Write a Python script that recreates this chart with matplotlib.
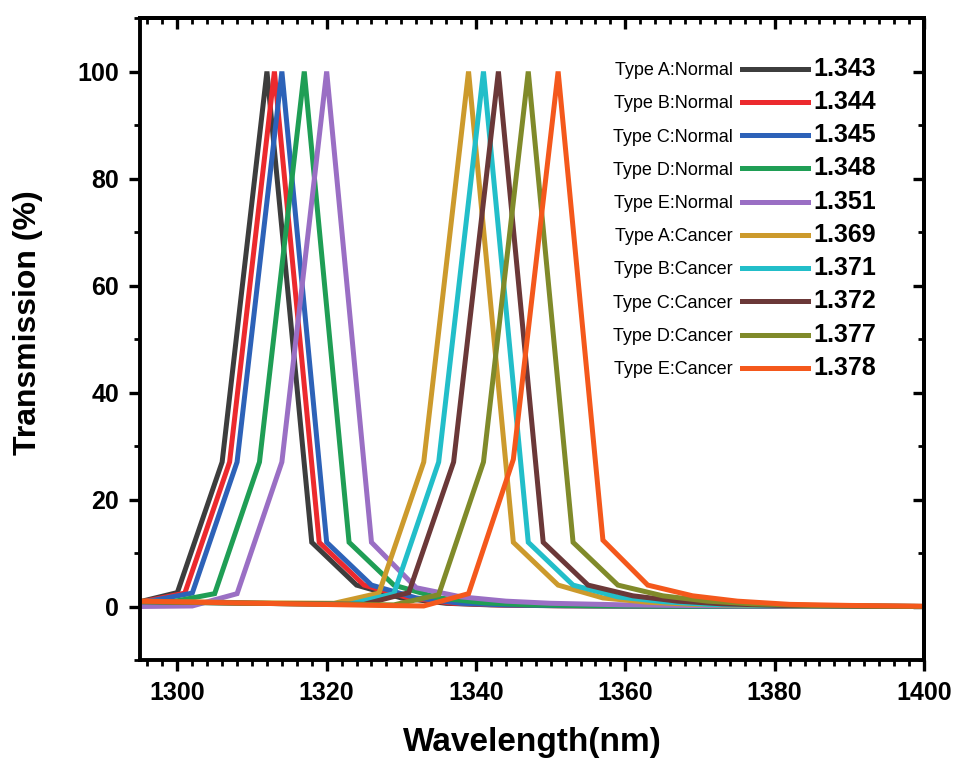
import matplotlib
matplotlib.use("Agg")
import matplotlib.pyplot as plt
from matplotlib.ticker import MultipleLocator

plt.rcParams['font.family'] = ['Liberation Sans', 'DejaVu Sans']

# ---------------- data ----------------
labels = ["Type A:Normal", "Type B:Normal", "Type C:Normal", "Type D:Normal", "Type E:Normal",
          "Type A:Cancer", "Type B:Cancer", "Type C:Cancer", "Type D:Cancer", "Type E:Cancer"]
ri_values = ["1.343", "1.344", "1.345", "1.348", "1.351",
             "1.369", "1.371", "1.372", "1.377", "1.378"]
colors = ["#3d3d3d", "#ec2a2e", "#2d62b8", "#1f9e55", "#9a6fc4",
          "#cc9a2c", "#22bec9", "#6b3838", "#808a2a", "#f4581c"]

x_a_normal = [1295, 1300, 1306, 1312, 1318, 1324, 1330, 1336, 1342, 1350, 1370, 1400]
y_a_normal = [0.9, 2.6, 27.0, 100, 12.0, 4.0, 1.6, 0.6, 0.3, 0.15, 0.05, 0.0]

x_b_normal = [1295, 1301, 1307, 1313, 1319, 1325, 1331, 1337, 1343, 1351, 1370, 1400]
y_b_normal = [0.8, 2.5, 27.0, 100, 12.0, 4.0, 1.6, 0.6, 0.3, 0.15, 0.05, 0.0]

x_c_normal = [1295, 1302, 1308, 1314, 1320, 1326, 1332, 1338, 1344, 1352, 1370, 1400]
y_c_normal = [0.7, 2.5, 27.0, 100, 12.0, 4.0, 1.6, 0.6, 0.3, 0.15, 0.05, 0.0]

x_d_normal = [1295, 1299, 1305, 1311, 1317, 1323, 1329, 1335, 1341, 1347, 1355, 1370, 1400]
y_d_normal = [0.6, 0.8, 2.4, 27.0, 100, 12.0, 4.0, 1.6, 0.7, 0.3, 0.15, 0.05, 0.0]

x_e_normal = [1295, 1302, 1308, 1314, 1320, 1326, 1332, 1338, 1344, 1350, 1360, 1375, 1400]
y_e_normal = [0.0, 0.1, 2.4, 27.0, 100, 12.0, 3.5, 1.8, 1.0, 0.6, 0.3, 0.1, 0.0]

x_a_cancer = [1295, 1310, 1321, 1327, 1333, 1339, 1345, 1351, 1357, 1363, 1369, 1377, 1390, 1400]
y_a_cancer = [1.0, 0.7, 0.6, 2.5, 27.0, 100, 12.0, 4.0, 1.6, 0.8, 0.4, 0.2, 0.05, 0.0]

x_b_cancer = [1295, 1310, 1323, 1329, 1335, 1341, 1347, 1353, 1359, 1365, 1371, 1379, 1390, 1400]
y_b_cancer = [0.9, 0.6, 0.4, 2.4, 27.0, 100, 12.0, 4.0, 1.8, 0.9, 0.4, 0.2, 0.05, 0.0]

x_c_cancer = [1295, 1310, 1325, 1331, 1337, 1343, 1349, 1355, 1361, 1367, 1373, 1381, 1392, 1400]
y_c_cancer = [0.9, 0.6, 0.4, 2.6, 27.0, 100, 12.0, 4.0, 2.0, 1.0, 0.5, 0.2, 0.05, 0.0]

x_d_cancer = [1295, 1310, 1329, 1335, 1341, 1347, 1353, 1359, 1365, 1371, 1377, 1385, 1395, 1400]
y_d_cancer = [0.9, 0.6, 0.3, 2.2, 27.0, 100, 12.0, 4.0, 2.0, 1.0, 0.5, 0.2, 0.05, 0.0]

x_e_cancer = [1295, 1303, 1315, 1327, 1333, 1339, 1345, 1351, 1357, 1363, 1369, 1375, 1382, 1390, 1400]
y_e_cancer = [1.0, 0.8, 0.5, 0.2, 0.1, 2.4, 27.5, 100, 12.4, 4.0, 2.0, 1.0, 0.4, 0.2, 0.05]

xs = [x_a_normal, x_b_normal, x_c_normal, x_d_normal, x_e_normal,
      x_a_cancer, x_b_cancer, x_c_cancer, x_d_cancer, x_e_cancer]
ys = [y_a_normal, y_b_normal, y_c_normal, y_d_normal, y_e_normal,
      y_a_cancer, y_b_cancer, y_c_cancer, y_d_cancer, y_e_cancer]

x_ticks_major = 20
x_ticks_minor = 2
y_ticks_major = 20
y_ticks_minor = 10

# ---------------- figure ----------------
W, H = 955, 759
fig = plt.figure(figsize=(W / 100, H / 100), dpi=100)
L, R, T, B = 140, 924, 18, 660
ax = fig.add_axes([L / W, 1 - B / H, (R - L) / W, (B - T) / H])

handles = []
for x, y, c, lab in zip(xs, ys, colors, labels):
    h, = ax.plot(x, y, color=c, lw=3.6, label=lab, solid_joinstyle='miter')
    handles.append(h)

ax.set_xlim(1295, 1400)
ax.set_ylim(-10, 110)

ax.xaxis.set_major_locator(MultipleLocator(x_ticks_major))
ax.xaxis.set_minor_locator(MultipleLocator(x_ticks_minor))
ax.yaxis.set_major_locator(MultipleLocator(y_ticks_major))
ax.yaxis.set_minor_locator(MultipleLocator(y_ticks_minor))

for s in ax.spines.values():
    s.set_linewidth(2.8)

ax.tick_params(which='major', direction='out', length=8, width=2.4, labelsize=18, pad=7)
ax.tick_params(which='minor', direction='out', length=4, width=2.0)
for lab in ax.get_xticklabels() + ax.get_yticklabels():
    lab.set_fontweight('bold')

# mirrored inward ticks on top and right
secx = ax.secondary_xaxis('top')
secx.xaxis.set_major_locator(MultipleLocator(x_ticks_major))
secx.xaxis.set_minor_locator(MultipleLocator(x_ticks_minor))
secx.tick_params(which='major', direction='in', length=8, width=2.4, labeltop=False)
secx.tick_params(which='minor', direction='in', length=4, width=2.0)
secx.spines['top'].set_linewidth(2.8)

secy = ax.secondary_yaxis('right')
secy.yaxis.set_major_locator(MultipleLocator(y_ticks_major))
secy.yaxis.set_minor_locator(MultipleLocator(y_ticks_minor))
secy.tick_params(which='major', direction='in', length=8, width=2.4, labelright=False)
secy.tick_params(which='minor', direction='in', length=4, width=2.0)
secy.spines['right'].set_linewidth(2.8)

ax.set_xlabel("Wavelength(nm)", fontsize=24, fontweight='bold')
ax.set_ylabel("Transmission (%)", fontsize=23, fontweight='bold')
ax.xaxis.label.set_va('center')
ax.yaxis.label.set_va('center')
ax.yaxis.label.set_ha('center')
ax.xaxis.set_label_coords(0.5, (B - 743) / (B - T))
ax.yaxis.set_label_coords((28 - L) / (R - L), (B - 323) / (B - T))

leg = ax.legend(handles=handles, labels=labels, loc='upper right',
                bbox_to_anchor=(808 / W, 1 - 62 / H), bbox_transform=fig.transFigure,
                frameon=False, markerfirst=False, fontsize=13,
                handlelength=3.67, handletextpad=0.5, labelspacing=0.9,
                borderpad=0, borderaxespad=0)
for ln in leg.get_lines():
    ln.set_linewidth(3.6)

fig.canvas.draw()
renderer = fig.canvas.get_renderer()
inv = fig.transFigure.inverted()
for ln, val in zip(leg.get_lines(), ri_values):
    bb = ln.get_window_extent(renderer)
    px, py = inv.transform((bb.x1 + 5, (bb.y0 + bb.y1) / 2))
    fig.text(px, py, val, fontsize=18, fontweight='bold', ha='left', va='center')

fig.savefig("out.png", dpi=100)
